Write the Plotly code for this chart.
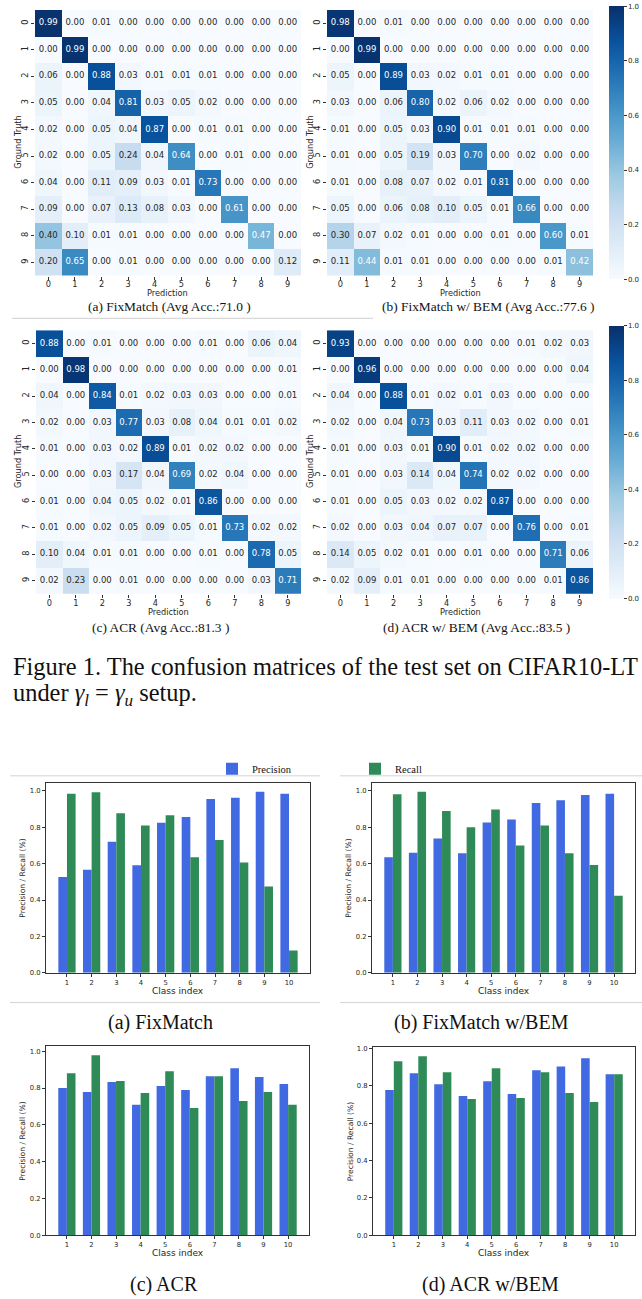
import plotly.graph_objects as go

W, H = 642, 1299

# ---------------- data ----------------
classes = list(range(10))
class_idx = list(range(1, 11))

cm_fixmatch = [
    [.99, .00, .01, .00, .00, .00, .00, .00, .00, .00],
    [.00, .99, .00, .00, .00, .00, .00, .00, .00, .00],
    [.06, .00, .88, .03, .01, .01, .01, .00, .00, .00],
    [.05, .00, .04, .81, .03, .05, .02, .00, .00, .00],
    [.02, .00, .05, .04, .87, .00, .01, .01, .00, .00],
    [.02, .00, .05, .24, .04, .64, .00, .01, .00, .00],
    [.04, .00, .11, .09, .03, .01, .73, .00, .00, .00],
    [.09, .00, .07, .13, .08, .03, .00, .61, .00, .00],
    [.40, .10, .01, .01, .00, .00, .00, .00, .47, .00],
    [.20, .65, .00, .01, .00, .00, .00, .00, .00, .12],
]
cm_fixmatch_bem = [
    [.98, .00, .01, .00, .00, .00, .00, .00, .00, .00],
    [.00, .99, .00, .00, .00, .00, .00, .00, .00, .00],
    [.05, .00, .89, .03, .02, .01, .01, .00, .00, .00],
    [.03, .00, .06, .80, .02, .06, .02, .00, .00, .00],
    [.01, .00, .05, .03, .90, .01, .01, .01, .00, .00],
    [.01, .00, .05, .19, .03, .70, .00, .02, .00, .00],
    [.01, .00, .08, .07, .02, .01, .81, .00, .00, .00],
    [.05, .00, .06, .08, .10, .05, .01, .66, .00, .00],
    [.30, .07, .02, .01, .00, .00, .01, .00, .60, .01],
    [.11, .44, .01, .01, .00, .00, .00, .00, .01, .42],
]
cm_acr = [
    [.88, .00, .01, .00, .00, .00, .01, .00, .06, .04],
    [.00, .98, .00, .00, .00, .00, .00, .00, .00, .01],
    [.04, .00, .84, .01, .02, .03, .03, .00, .00, .01],
    [.02, .00, .03, .77, .03, .08, .04, .01, .01, .02],
    [.01, .00, .03, .02, .89, .01, .02, .02, .00, .00],
    [.00, .00, .03, .17, .04, .69, .02, .04, .00, .00],
    [.01, .00, .04, .05, .02, .01, .86, .00, .00, .00],
    [.01, .00, .02, .05, .09, .05, .01, .73, .02, .02],
    [.10, .04, .01, .01, .00, .00, .01, .00, .78, .05],
    [.02, .23, .00, .01, .00, .00, .00, .00, .03, .71],
]
cm_acr_bem = [
    [.93, .00, .00, .00, .00, .00, .00, .01, .02, .03],
    [.00, .96, .00, .00, .00, .00, .00, .00, .00, .04],
    [.04, .00, .88, .01, .02, .01, .03, .00, .00, .00],
    [.02, .00, .04, .73, .03, .11, .03, .02, .00, .01],
    [.01, .00, .03, .01, .90, .01, .02, .02, .00, .00],
    [.01, .00, .03, .14, .04, .74, .02, .02, .00, .00],
    [.01, .00, .05, .03, .02, .02, .87, .00, .00, .00],
    [.02, .00, .03, .04, .07, .07, .00, .76, .00, .01],
    [.14, .05, .02, .01, .00, .01, .00, .00, .71, .06],
    [.02, .09, .01, .01, .00, .00, .00, .00, .01, .86],
]

prec_fixmatch = [0.526, 0.566, 0.721, 0.591, 0.825, 0.857, 0.956, 0.962, 0.995, 0.985]
rec_fixmatch = [0.985, 0.993, 0.877, 0.810, 0.866, 0.635, 0.730, 0.607, 0.474, 0.122]
prec_fixmatch_bem = [0.635, 0.660, 0.739, 0.657, 0.826, 0.843, 0.934, 0.949, 0.978, 0.985]
rec_fixmatch_bem = [0.982, 0.995, 0.890, 0.800, 0.898, 0.700, 0.810, 0.657, 0.593, 0.423]
prec_acr = [0.800, 0.779, 0.833, 0.709, 0.811, 0.790, 0.865, 0.908, 0.860, 0.822]
rec_acr = [0.881, 0.978, 0.838, 0.773, 0.892, 0.692, 0.865, 0.730, 0.779, 0.709]
prec_acr_bem = [0.777, 0.867, 0.809, 0.745, 0.825, 0.756, 0.883, 0.904, 0.947, 0.862]
rec_acr_bem = [0.931, 0.958, 0.873, 0.729, 0.894, 0.735, 0.873, 0.761, 0.713, 0.862]

hm_captions = ["(a) FixMatch (Avg Acc.:71.0 )", "(b) FixMatch w/ BEM (Avg Acc.:77.6 )",
               "(c) ACR (Avg Acc.:81.3 )", "(d) ACR w/ BEM (Avg Acc.:83.5 )"]
bar_captions = ["(a) FixMatch", "(b) FixMatch w/BEM", "(c) ACR", "(d) ACR w/BEM"]
cbar_ticks = [0.0, 0.2, 0.4, 0.6, 0.8, 1.0]
bar_yticks = [0.0, 0.2, 0.4, 0.6, 0.8, 1.0]

# ---------------- style / layout helpers ----------------
BLUES = [[0.0, "#f7fbff"], [0.125, "#deebf7"], [0.25, "#c6dbef"], [0.375, "#9ecae1"],
         [0.5, "#6baed6"], [0.625, "#4292c6"], [0.75, "#2171b5"], [0.875, "#08519c"],
         [1.0, "#08306b"]]
SANS = "DejaVu Sans"
SERIF = "Liberation Serif, Times New Roman, serif"
DARK = "#262626"
BLUE = "#4169E1"
GREEN = "#2E8B57"


def px(x):
    return x / W


def py(y):
    return 1 - y / H


fig = go.Figure()
layout = dict(width=W, height=H, autosize=False, margin=dict(l=0, r=0, t=0, b=0, pad=0),
              paper_bgcolor="white", plot_bgcolor="white", showlegend=True,
              font=dict(family=SANS, color=DARK))
annotations = []
shapes = []

# heatmap boxes (x0, x1, y0, y1 in px)
hm_boxes = [(35, 301, 7, 274), (327, 593, 7, 274), (36, 301, 329, 594), (327, 593, 329, 594)]
cms = [cm_fixmatch, cm_fixmatch_bem, cm_acr, cm_acr_bem]
gt_x = [18, 310, 18, 310]
cap_x = [170, 488, 161, 476]
cap_y = [305, 305, 628, 628]
cbar_boxes = {1: (609, 4, 277), 3: (609, 325, 598)}

for i, (cm, box) in enumerate(zip(cms, hm_boxes)):
    n = i + 1
    xa = "x" if n == 1 else f"x{n}"
    ya = "y" if n == 1 else f"y{n}"
    x0, x1, y0, y1 = box
    trace_kw = dict(z=cm, x=classes, y=classes, colorscale=BLUES, zmin=0, zmax=1,
                    xaxis=xa, yaxis=ya, hoverinfo="skip", showscale=False)
    if i in cbar_boxes:
        cx, cy0, cy1 = cbar_boxes[i]
        trace_kw["showscale"] = True
        trace_kw["colorbar"] = dict(x=px(cx), xanchor="left", y=py((cy0 + cy1) / 2),
                                    yanchor="middle", len=cy1 - cy0, lenmode="pixels",
                                    thickness=15, thicknessmode="pixels", xpad=0, ypad=0,
                                    outlinewidth=0, tickvals=cbar_ticks,
                                    ticktext=[f"{t:.1f}" for t in cbar_ticks],
                                    ticks="outside", ticklen=3, tickcolor="#333",
                                    tickfont=dict(size=7, family=SANS, color=DARK))
    fig.add_trace(go.Heatmap(**trace_kw))
    xs, ys, txt, cols = [], [], [], []
    for r in classes:
        for c in classes:
            v = cm[r][c]
            xs.append(c)
            ys.append(r)
            txt.append(f"{v:.2f}")
            cols.append("white" if v > 0.41 else DARK)
    fig.add_trace(go.Scatter(x=xs, y=ys, mode="text", text=txt, xaxis=xa, yaxis=ya,
                             textfont=dict(size=8.5, family=SANS, color=cols),
                             hoverinfo="skip", showlegend=False))
    axkey = "xaxis" if n == 1 else f"xaxis{n}"
    aykey = "yaxis" if n == 1 else f"yaxis{n}"
    layout[axkey] = dict(domain=[px(x0), px(x1)], anchor=ya, range=[-0.5, 9.5],
                         tickvals=classes, ticks="outside", ticklen=3, tickcolor="#333",
                         ticklabelstandoff=-2,
                         showgrid=False, zeroline=False, showline=False,
                         tickfont=dict(size=8.2, family=SANS, color=DARK))
    layout[aykey] = dict(domain=[py(y1), py(y0)], anchor=xa, range=[9.5, -0.5],
                         tickvals=classes, ticks="outside", ticklen=3, tickcolor="#333",
                         tickangle=-90, showgrid=False, zeroline=False, showline=False,
                         tickfont=dict(size=8.2, family=SANS, color=DARK))
    annotations.append(dict(x=px((x0 + x1) / 2), y=py(y1 + 18), xref="paper", yref="paper",
                            text="Prediction", showarrow=False, xanchor="center",
                            yanchor="middle", font=dict(size=8.2, family=SANS, color=DARK)))
    annotations.append(dict(x=px(gt_x[i]), y=py((y0 + y1) / 2), xref="paper", yref="paper",
                            text="Ground Truth", showarrow=False, textangle=-90,
                            xanchor="center", yanchor="middle",
                            font=dict(size=8.2, family=SANS, color=DARK)))
    annotations.append(dict(x=px(cap_x[i]), y=py(cap_y[i]), xref="paper", yref="paper",
                            text=hm_captions[i], showarrow=False, xanchor="center",
                            yanchor="middle", font=dict(size=13.4, family=SERIF, color="#111")))

# figure caption
annotations.append(dict(x=px(11), y=py(667), xref="paper", yref="paper",
                        text="Figure 1. The confusion matrices of the test set on CIFAR10-LT",
                        showarrow=False, xanchor="left", yanchor="middle",
                        font=dict(size=24.4, family=SERIF, color="#111")))
annotations.append(dict(x=px(11), y=py(695), xref="paper", yref="paper",
                        text="under <i>γ</i><sub><i>l</i></sub> = <i>γ</i><sub><i>u</i></sub> setup.",
                        showarrow=False, xanchor="left", yanchor="middle",
                        font=dict(size=24.4, family=SERIF, color="#111")))

# separator line under top heatmaps
shapes.append(dict(type="line", xref="paper", yref="paper", x0=px(12), x1=px(373),
                   y0=py(317), y1=py(317), line=dict(color="#cfcfcf", width=1)))

# ---------------- bar charts ----------------
bar_boxes = [(46, 310, 784, 975), (372, 635, 784, 975), (46, 309, 1049, 1239), (373, 635, 1050, 1239)]
precs = [prec_fixmatch, prec_fixmatch_bem, prec_acr, prec_acr_bem]
recs = [rec_fixmatch, rec_fixmatch_bem, rec_acr, rec_acr_bem]
bar_cap = [(160, 1025), (481, 1025), (164, 1288), (490, 1288)]
ylab_x = [23, 349, 23, 350]

for j in range(4):
    n = j + 5
    xa, ya = f"x{n}", f"y{n}"
    x0, x1, y0, y1 = bar_boxes[j]
    fig.add_trace(go.Bar(x=class_idx, y=precs[j], name="Precision", marker_color=BLUE,
                         marker_line_width=0, xaxis=xa, yaxis=ya, offsetgroup="p",
                         showlegend=(j == 0), legend="legend", hoverinfo="skip"))
    fig.add_trace(go.Bar(x=class_idx, y=recs[j], name="Recall", marker_color=GREEN,
                         marker_line_width=0, xaxis=xa, yaxis=ya, offsetgroup="r",
                         showlegend=(j == 1), legend="legend2", hoverinfo="skip"))
    ymax = 1.05 * max(precs[j] + recs[j])
    layout[f"xaxis{n}"] = dict(domain=[px(x0), px(x1)], anchor=ya, range=[0.15, 10.85],
                               tickvals=class_idx, ticks="outside", ticklen=3,
                               tickcolor="#333", showgrid=False, zeroline=False,
                               showline=True, mirror=True, linecolor="#333", linewidth=1,
                               tickfont=dict(size=6.8, family=SANS, color=DARK))
    layout[f"yaxis{n}"] = dict(domain=[py(y1), py(y0)], anchor=xa, range=[0, ymax],
                               tickvals=bar_yticks,
                               ticktext=[f"{t:.1f}" for t in bar_yticks],
                               ticks="outside", ticklen=3, tickcolor="#333",
                               showgrid=False, zeroline=False, showline=True, mirror=True,
                               linecolor="#333", linewidth=1,
                               tickfont=dict(size=6.8, family=SANS, color=DARK))
    annotations.append(dict(x=px((x0 + x1) / 2), y=py(y1 + 18), xref="paper", yref="paper",
                            text="Class index", showarrow=False, xanchor="center",
                            yanchor="middle", font=dict(size=9, family=SANS, color=DARK)))
    annotations.append(dict(x=px(ylab_x[j]), y=py((y0 + y1) / 2), xref="paper", yref="paper",
                            text="Precision / Recall (%)", showarrow=False, textangle=-90,
                            xanchor="center", yanchor="middle",
                            font=dict(size=7.6, family=SANS, color=DARK)))
    annotations.append(dict(x=px(bar_cap[j][0]), y=py(bar_cap[j][1]), xref="paper",
                            yref="paper", text=bar_captions[j], showarrow=False,
                            xanchor="center", yanchor="middle",
                            font=dict(size=20, family=SERIF, color="#111")))

layout["barmode"] = "group"
layout["bargap"] = 0.3
layout["bargroupgap"] = 0.0

# separator lines around top bar charts
for (a, b) in [(10, 320), (340, 642)]:
    for yy in (777, 1005):
        shapes.append(dict(type="line", xref="paper", yref="paper", x0=px(a), x1=px(b),
                           y0=py(yy), y1=py(yy), line=dict(color="#d3d3d3", width=1)))

legend_common = dict(xanchor="left", yanchor="middle", bgcolor="rgba(0,0,0,0)",
                     borderwidth=0, font=dict(size=10.5, family=SERIF, color="#111"),
                     itemwidth=30, tracegroupgap=0)
layout["legend"] = dict(x=px(212), y=py(770), **legend_common)
layout["legend2"] = dict(x=px(355), y=py(770), **legend_common)

layout["annotations"] = annotations
layout["shapes"] = shapes
fig.update_layout(**layout)

fig.write_html("out.html",
               config={"displayModeBar": False},
               post_script="document.body.style.margin='0px';document.body.style.overflow='hidden';")
